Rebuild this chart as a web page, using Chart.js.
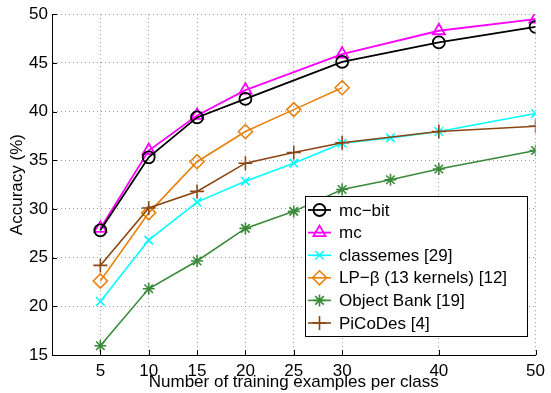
<!DOCTYPE html>
<html><head><meta charset="utf-8">
<script src="https://cdn.jsdelivr.net/npm/chart.js@4"></script>
<style>html,body{margin:0;padding:0;background:#fff}#wrap{width:551px;height:393px}</style>
</head><body><div id="wrap"><canvas id="c" width="551" height="393"></canvas></div>
<script>
const xTicks = [5, 10, 15, 20, 25, 30, 40, 50];
const xMcBit = [5, 10, 15, 20, 30, 40, 50];
const mcBit = [27.8, 35.3, 39.4, 41.3, 45.1, 47.1, 48.7];
const xMc = [5, 10, 15, 20, 30, 40, 50];
const mc = [28.0, 36.0, 39.6, 42.2, 45.9, 48.3, 49.5];
const xClassemes = [5, 10, 15, 20, 25, 30, 35, 40, 50];
const classemes = [20.5, 26.8, 30.7, 32.85, 34.7, 36.75, 37.3, 37.95, 39.8];
const xLp = [5, 10, 15, 20, 25, 30];
const lpBeta = [22.6, 29.6, 34.85, 37.95, 40.2, 42.45];
const xObj = [5, 10, 15, 20, 25, 30, 35, 40, 50];
const objectBank = [15.95, 21.8, 24.65, 28.0, 29.75, 32.0, 33.0, 34.1, 36.0];
const xPico = [5, 10, 15, 20, 25, 30, 40, 50];
const picodes = [24.2, 30.1, 31.8, 34.7, 35.8, 36.8, 37.95, 38.5];
const seriesNames = ['mc\u2212bit', 'mc', 'classemes [29]', 'LP\u2212\u03b2 (13 kernels) [12]', 'Object Bank [19]', 'PiCoDes [4]'];

const FONT = "'Liberation Sans', Arial, sans-serif";
const pts = (xs, ys) => xs.map((x, i) => ({x: x, y: ys[i]}));
function ds(label, xs, ys, color, style, r, w) {
  return {label, data: pts(xs, ys), borderColor: color, backgroundColor: 'rgba(0,0,0,0)',
    pointStyle: style, pointRadius: r, pointBorderColor: color, pointBorderWidth: w,
    pointBackgroundColor: 'rgba(0,0,0,0)', borderWidth: w, tension: 0, fill: false};
}
const datasets = [
  ds(seriesNames[5], xPico, picodes, '#8b4513', 'cross', 7, 1.6),
  ds(seriesNames[4], xObj, objectBank, '#3a8a3a', 'star', 6, 1.6),
  ds(seriesNames[3], xLp, lpBeta, '#e8820e', 'rectRot', 7, 1.6),
  ds(seriesNames[2], xClassemes, classemes, '#00ffff', 'crossRot', 6, 1.6),
  ds(seriesNames[0], xMcBit, mcBit, '#000000', 'circle', 6, 1.8),
  ds(seriesNames[1], xMc, mc, '#ff00ff', 'triangle', 7, 1.8)
];
const legendOrder = [4, 5, 3, 2, 1, 0];

const extras = {
  id: 'extras',
  afterDatasetsDraw(chart) {
    const ctx = chart.ctx, a = chart.chartArea;
    const xs = chart.scales.x, ys = chart.scales.y;
    ctx.save();
    ctx.strokeStyle = '#000'; ctx.lineWidth = 1;
    ctx.beginPath();
    xs.ticks.forEach(t => { const p = Math.round(xs.getPixelForValue(t.value)) + 0.5; ctx.moveTo(p, a.bottom); ctx.lineTo(p, a.bottom - 5); });
    ys.ticks.forEach(t => { const p = Math.round(ys.getPixelForValue(t.value)) + 0.5; ctx.moveTo(a.left, p); ctx.lineTo(a.left + 5, p); });
    ctx.stroke();
    // legend box
    const bx = 305.5, by = 196.5, bw = 222, bh = 140;
    ctx.fillStyle = '#fff'; ctx.fillRect(bx, by, bw, bh);
    ctx.strokeStyle = '#000'; ctx.lineWidth = 1; ctx.strokeRect(bx, by, bw, bh);
    ctx.font = '17px ' + FONT; ctx.textBaseline = 'middle';
    legendOrder.forEach((di, i) => {
      const d = chart.data.datasets[di];
      const y = 210 + i * 22.6;
      ctx.strokeStyle = d.borderColor; ctx.lineWidth = d.borderWidth;
      ctx.beginPath(); ctx.moveTo(308, y); ctx.lineTo(331, y); ctx.stroke();
      ctx.fillStyle = 'rgba(0,0,0,0)';
      Chart.helpers.drawPoint(ctx, {pointStyle: d.pointStyle, radius: d.pointRadius, borderWidth: d.pointBorderWidth, rotation: 0}, 319.5, y);
      ctx.fillStyle = '#000';
      ctx.fillText(d.label, 339, y + 1);
    });
    ctx.restore();
  }
};

new Chart(document.getElementById('c'), {
  type: 'line',
  data: {datasets},
  options: {
    responsive: false, animation: false,
    layout: {padding: {left: 0, right: 11, top: 12, bottom: 0}},
    plugins: {legend: {display: false}, tooltip: {enabled: false}},
    scales: {
      x: {type: 'linear', min: 0, max: 50,
        afterBuildTicks: s => { s.ticks = xTicks.map(v => ({value: v})); },
        afterFit: s => { s.height = 38; },
        grid: {color: '#999', drawTicks: false, lineWidth: 1},
        border: {color: '#000', width: 1, dash: [1, 3], display: true},
        ticks: {color: '#000', font: {family: FONT, size: 17}, padding: 6, maxRotation: 0, autoSkip: false},
        title: {display: true, text: 'Number of training examples per class', color: '#000', font: {family: FONT, size: 17}, padding: {top: 0, bottom: 0}}
      },
      y: {min: 15, max: 50,
        ticks: {stepSize: 5, color: '#000', font: {family: FONT, size: 17}, padding: 4},
        afterFit: s => { s.width = 52; },
        grid: {color: '#999', drawTicks: false, lineWidth: 1},
        border: {color: '#000', width: 1, dash: [1, 3], display: true},
        title: {display: true, text: 'Accuracy (%)', color: '#000', font: {family: FONT, size: 17}, padding: {top: 7, bottom: 0}}
      }
    }
  },
  plugins: [extras]
});
</script></body></html>
